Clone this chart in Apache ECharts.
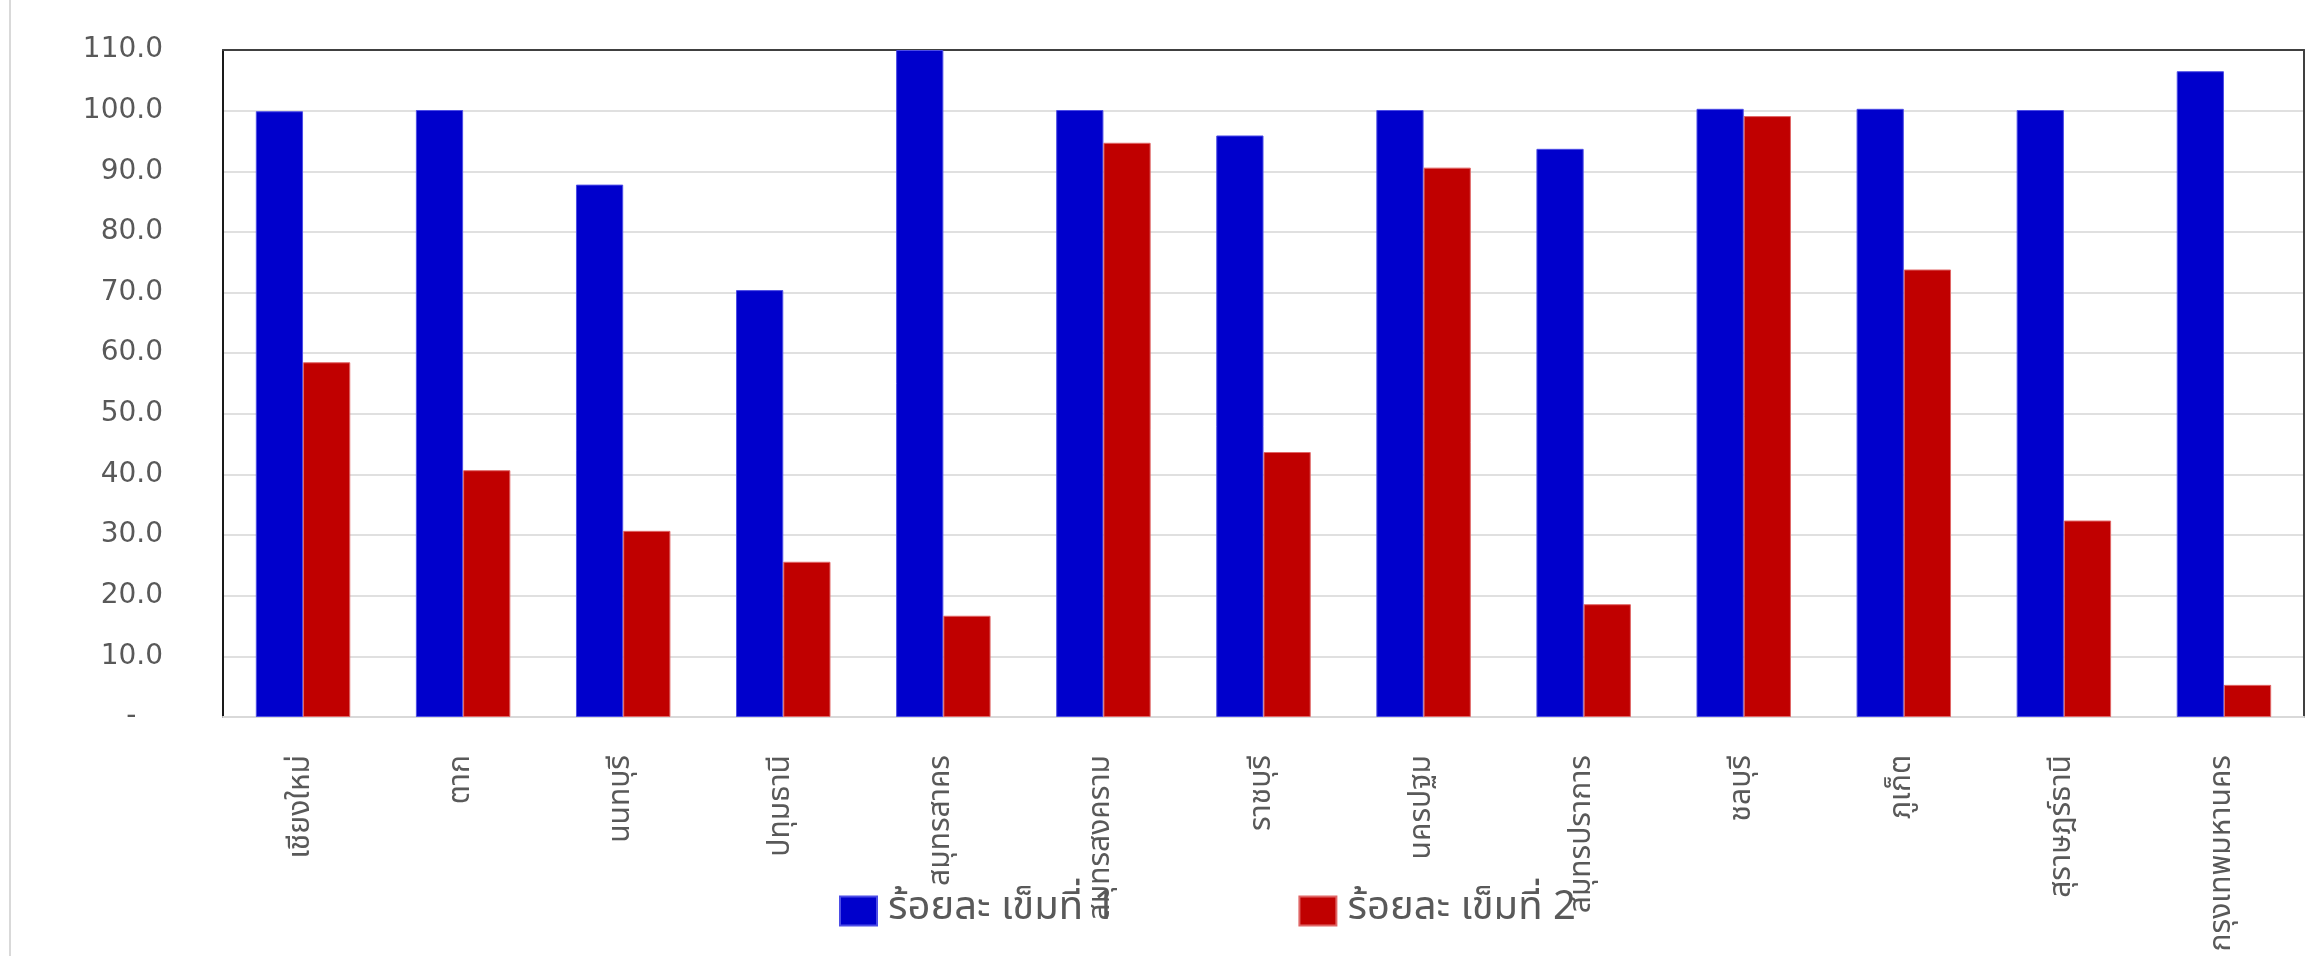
<!DOCTYPE html>
<html>
<head>
<meta charset="utf-8">
<script src="https://cdn.jsdelivr.net/npm/echarts@6/dist/echarts.min.js"></script>
<style>
  html, body { margin: 0; padding: 0; background: #ffffff; }
  #chart { width: 2316px; height: 956px; position: absolute; left: 0; top: 0; }
  #edge { position: absolute; left: 9px; top: 0; width: 2px; height: 956px; background: #d9d9d9; }
</style>
</head>
<body>
<div id="chart"></div>
<div id="edge"></div>
<script>
const categories = ['เชียงใหม่', 'ตาก', 'นนทบุรี', 'ปทุมธานี', 'สมุทรสาคร', 'สมุทรสงคราม', 'ราชบุรี', 'นครปฐม', 'สมุทรปราการ', 'ชลบุรี', 'ภูเก็ต', 'สุราษฎร์ธานี', 'กรุงเทพมหานคร'];
const seriesNames = ['ร้อยละ เข็มที่ 1', 'ร้อยละ เข็มที่ 2'];
const dose1 = [99.9, 100.1, 87.8, 70.4, 110.0, 100.1, 95.9, 100.1, 93.7, 100.3, 100.3, 100.1, 106.5];
const dose2 = [58.5, 40.7, 30.7, 25.6, 16.7, 94.7, 43.7, 90.6, 18.6, 99.1, 73.8, 32.4, 5.3];

const chart = echarts.init(document.getElementById('chart'), null, { renderer: 'canvas' });
const textColor = '#595959';
const thaiFont = '"Noto Sans Thai", "Noto Sans", "DejaVu Sans", sans-serif';

chart.setOption({
  animation: false,
  backgroundColor: '#ffffff',
  grid: { left: 223, right: 12, top: 50, bottom: 239, containLabel: false },
  legend: {
    left: 834,
    top: 886,
    itemWidth: 37,
    itemHeight: 29,
    itemGap: 182,
    icon: 'rect',
    textStyle: { color: textColor, fontSize: 40, fontFamily: thaiFont, padding: [0, 0, 0, 6] },
    data: seriesNames
  },
  xAxis: [
    {
      type: 'category',
      data: categories,
      axisLine: { show: true, onZero: false, lineStyle: { color: '#d9d9d9', width: 2 } },
      axisTick: { show: false },
      axisLabel: {
        rotate: 90,
        interval: 0,
        margin: 38,
        color: textColor,
        fontSize: 30,
        fontFamily: thaiFont
      },
      splitLine: { show: false }
    },
    {
      type: 'category',
      position: 'top',
      data: categories,
      axisLine: { show: true, onZero: false, lineStyle: { color: '#404040', width: 2 } },
      axisTick: { show: false },
      axisLabel: { show: false },
      splitLine: { show: false }
    }
  ],
  yAxis: [
    {
      type: 'value',
      min: 0,
      max: 110,
      interval: 10,
      axisLine: { show: true, onZero: false, lineStyle: { color: '#1a1a1a', width: 2 } },
      axisTick: { show: false },
      splitLine: { show: true, lineStyle: { color: '#e0e0e0', width: 2 } },
      axisLabel: {
        margin: 60,
        color: textColor,
        fontSize: 28,
        fontFamily: '"DejaVu Sans", Verdana, sans-serif',
        padding: [0, 0, 6, 0],
        formatter: function (v) { return v === 0 ? '-   ' : v.toFixed(1); }
      }
    },
    {
      type: 'value',
      position: 'right',
      min: 0,
      max: 110,
      interval: 10,
      axisLine: { show: true, onZero: false, lineStyle: { color: '#404040', width: 2 } },
      axisTick: { show: false },
      axisLabel: { show: false },
      splitLine: { show: false }
    }
  ],
  series: [
    {
      name: seriesNames[0],
      type: 'bar',
      data: dose1,
      barGap: '0%',
      barCategoryGap: '41%',
      itemStyle: { color: '#0000CC', borderColor: '#4d4de6', borderWidth: 1 }
    },
    {
      name: seriesNames[1],
      type: 'bar',
      data: dose2,
      barGap: '0%',
      barCategoryGap: '41%',
      itemStyle: { color: '#C00000', borderColor: '#e06666', borderWidth: 1 }
    }
  ]
});
</script>
</body>
</html>
